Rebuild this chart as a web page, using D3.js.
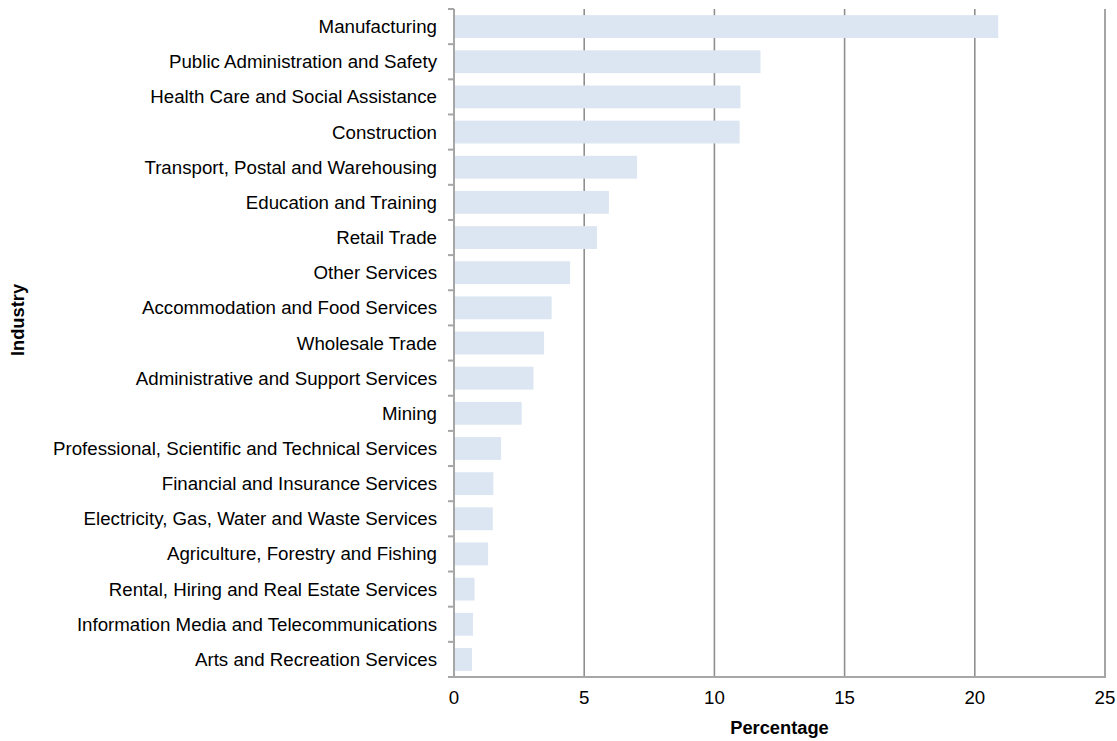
<!DOCTYPE html>
<html><head><meta charset="utf-8">
<script src="https://cdn.jsdelivr.net/npm/d3@7"></script>
<style>body{margin:0;background:#fff;} text{font-family:"Liberation Sans",Arial,sans-serif;}</style>
</head><body>
<svg id="chart" width="1117" height="741"></svg>
<script>
const categories = ["Manufacturing","Public Administration and Safety","Health Care and Social Assistance","Construction","Transport, Postal and Warehousing","Education and Training","Retail Trade","Other Services","Accommodation and Food Services","Wholesale Trade","Administrative and Support Services","Mining","Professional, Scientific and Technical Services","Financial and Insurance Services","Electricity, Gas, Water and Waste Services","Agriculture, Forestry and Fishing","Rental, Hiring and Real Estate Services","Information Media and Telecommunications","Arts and Recreation Services"];
const values = [20.9,11.77,11.0,10.97,7.03,5.95,5.49,4.46,3.75,3.46,3.05,2.6,1.81,1.51,1.49,1.31,0.79,0.73,0.69];
const xTicks = [0,5,10,15,20,25];
const xLabel = "Percentage";
const yLabel = "Industry";

const svg = d3.select("#chart");
const m = {left:454, top:9, right:12, bottom:64};
const W = 1117, H = 741;
const x = d3.scaleLinear().domain([0,25]).range([m.left, W - m.right]);
const y = d3.scaleBand().domain(categories).range([m.top, H - m.bottom]).paddingInner(0.35).paddingOuter(0.175);

// gridlines
svg.append("g").selectAll("line").data(xTicks.filter(d=>d>0)).join("line")
  .attr("x1",d=>x(d)).attr("x2",d=>x(d)).attr("y1",m.top).attr("y2",H-m.bottom)
  .attr("stroke","#8f8f8f").attr("stroke-width",1.6);

// bars
svg.append("g").selectAll("rect").data(categories).join("rect")
  .attr("x",x(0)).attr("y",d=>y(d)).attr("height",y.bandwidth())
  .attr("width",(d,i)=>x(values[i])-x(0)).attr("fill","#dce6f2");

// y axis
const step = y.step();
const bounds = d3.range(categories.length+1).map(i=>m.top + i*step);
svg.append("g").selectAll("line").data(bounds).join("line")
  .attr("x1",m.left-6).attr("x2",m.left).attr("y1",d=>d).attr("y2",d=>d)
  .attr("stroke","#a6a6a6").attr("stroke-width",2);
svg.append("line").attr("x1",x(0)).attr("x2",x(0)).attr("y1",m.top).attr("y2",H-m.bottom)
  .attr("stroke","#a6a6a6").attr("stroke-width",2);
svg.append("line").attr("x1",m.left-6).attr("x2",x(25)+1).attr("y1",H-m.bottom).attr("y2",H-m.bottom)
  .attr("stroke","#a6a6a6").attr("stroke-width",2);

svg.append("g").selectAll("text").data(categories).join("text")
  .attr("x",m.left-17).attr("y",d=>y(d)+y.bandwidth()/2).attr("dy","0.35em")
  .attr("text-anchor","end").attr("font-size",18.7).attr("fill","#000").text(d=>d);

svg.append("g").selectAll("text").data(xTicks).join("text")
  .attr("x",d=>x(d)).attr("y",H-m.bottom+20).attr("dy","0.35em")
  .attr("text-anchor","middle").attr("font-size",18.7).attr("fill","#000").text(d=>d);

svg.append("text").attr("x",(x(0)+x(25))/2).attr("y",H-m.bottom+51).attr("dy","0.35em")
  .attr("text-anchor","middle").attr("font-size",18.3).attr("font-weight","bold").text(xLabel);
svg.append("text").attr("transform",`translate(18,320) rotate(-90)`).attr("dy","0.35em")
  .attr("text-anchor","middle").attr("font-size",18.3).attr("font-weight","bold").text(yLabel);
</script>
</body></html>
